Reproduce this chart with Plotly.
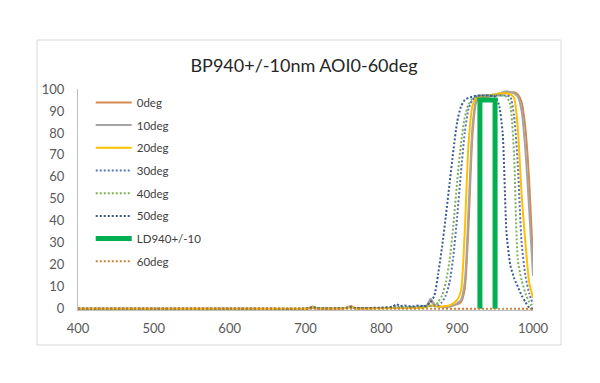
import plotly.graph_objects as go

wl = [400, 500, 600, 700, 705, 710, 715, 750, 755, 760, 765, 800, 815, 820, 825, 830, 840, 850, 855,
      860, 865, 870, 875, 880, 885, 890, 895, 900, 905, 910, 915, 920, 925, 930, 940, 950, 955, 960,
      965, 970, 975, 980, 985, 990, 995, 1000]

deg0 = [0, 0, 0, 0, 0.3, 1.0, 0.2, 0.2, 0.5, 1.2, 0.3, 0.3, 0.3, 0.4, 0.3, 0.3, 0.4, 0.5, 0.8,
        1.2, 3.5, 1.5, 1.0, 0.8, 0.8, 1.0, 1.5, 2, 3, 9, 38, 78, 94, 96, 96.5, 97, 97.5, 98,
        98.5, 98.5, 98.5, 97.5, 94, 82, 58, 22]
deg10 = [0, 0, 0, 0, 0.2, 0.8, 0.2, 0.2, 0.4, 1.0, 0.3, 0.3, 0.3, 0.4, 0.3, 0.3, 0.4, 0.5, 0.8,
         1.5, 4.5, 2.0, 1.2, 0.8, 0.8, 1.0, 1.5, 2.5, 4, 12, 45, 82, 95, 96.5, 97, 97.5, 98, 98.5,
         99, 98.5, 98, 96.5, 90, 72, 45, 15]
deg20 = [0, 0, 0, 0, 0.2, 0.6, 0.2, 0.2, 0.4, 0.8, 0.2, 0.2, 0.3, 0.3, 0.3, 0.3, 0.3, 0.4, 0.6,
         0.8, 1.5, 1.2, 1.0, 1.0, 1.2, 1.5, 2.5, 4, 8, 35, 75, 92, 96, 96.5, 97, 97.5, 98, 98,
         98, 97.5, 96, 82, 52, 30, 12, 5]
deg30 = [0, 0, 0, 0, 0.2, 0.5, 0.2, 0.2, 0.3, 0.6, 0.2, 0.3, 0.5, 0.8, 0.5, 0.6, 0.8, 1.0, 1.2,
         1.0, 1.2, 1.5, 1.5, 3, 6, 12, 24, 42, 62, 80, 91, 95, 96.5, 97, 97, 97, 97, 97,
         97, 96.5, 88, 65, 30, 15, 7, 2]
deg40 = [0, 0, 0, 0, 0.2, 0.5, 0.2, 0.2, 0.3, 0.5, 0.2, 0.3, 0.4, 0.6, 0.5, 0.5, 0.6, 0.8, 1.0,
         1.0, 1.2, 1.0, 3, 6, 12, 22, 38, 58, 75, 87, 93, 95.5, 96.5, 97, 97, 97, 97, 97,
         96.5, 93, 70, 22, 13, 7, 3, 0.5]
deg50 = [0, 0, 0, 0, 0.3, 0.6, 0.2, 0.2, 0.4, 0.6, 0.3, 0.5, 1.0, 2.0, 1.2, 1.5, 1.0, 1.5, 1.0,
         1.5, 3, 6, 16, 28, 42, 57, 72, 85, 92, 95, 96, 96.5, 97, 97, 97, 96.5, 93, 80,
         35, 20, 14, 10, 6, 3, 0.5, 0]
deg60 = [0, 0, 0, 0, 0, 0, 0, 0, 0, 0, 0, 0, 0, 0, 0, 0, 0, 0, 0,
         0, 0, 0, 0, 0, 0, 0, 0, 0, 0, 0, 0, 0, 0, 0, 0, 0, 0, 0,
         0, 0, 0, 0, 0, 0, 0, 0]

ld_x = [930, 930, 950, 950]
ld_y = [0, 95, 95, 0]

x_ticks = [400, 500, 600, 700, 800, 900, 1000]
y_ticks = [0, 10, 20, 30, 40, 50, 60, 70, 80, 90, 100]

DOT = "2px,2px"
series = [
    ("0deg", wl, deg0, "#D4894F", 2, "solid"),
    ("10deg", wl, deg10, "#A5A5A5", 2, "solid"),
    ("20deg", wl, deg20, "#FFC000", 2, "solid"),
    ("30deg", wl, deg30, "#5B74B8", 2, DOT),
    ("40deg", wl, deg40, "#7FB356", 2, DOT),
    ("50deg", wl, deg50, "#3A5A90", 2, DOT),
    ("LD940+/-10", ld_x, ld_y, "#00B050", 5, "solid"),
    ("60deg", wl, deg60, "#C8803A", 2, DOT),
]

fig = go.Figure()
for i, (name, xs, ys, col, w, dash) in enumerate(series):
    if name == "LD940+/-10":
        line = dict(color=col, width=w, dash=dash)
    else:
        line = dict(color=col, width=w, dash=dash, shape="spline", smoothing=0.6)
    fig.add_trace(go.Scatter(x=xs, y=ys, name=name, mode="lines", line=line,
                             legendgroup=f"g{i}"))

# page body has an 8px margin, so the figure is 8px smaller and offsets are reduced by 8
W, H = 592, 375
font = "Lato, 'Open Sans', sans-serif"
fig.update_layout(
    width=W, height=H,
    margin=dict(l=70, r=67, t=81, b=73),
    paper_bgcolor="white", plot_bgcolor="white",
    font=dict(family=font, size=13, color="#595959"),
    title=dict(text="BP940+/-10nm AOI0-60deg", x=0.5, xanchor="center",
               y=1 - 58 / H, yanchor="middle",
               font=dict(family=font, size=18, color="#262626")),
    showlegend=True,
    legend=dict(x=0.028, y=1.005, xanchor="left", yanchor="top", maxheight=320,
                bgcolor="rgba(0,0,0,0)", font=dict(size=11.5, color="#404040"),
                traceorder="grouped", tracegroupgap=3.7, itemwidth=36),
    xaxis=dict(range=[400, 1000], tickvals=x_ticks, showgrid=False, zeroline=False,
               showline=True, linecolor="#BFBFBF", linewidth=1, ticks="",
               ticklabelstandoff=6),
    yaxis=dict(range=[-0.6, 100], tickvals=y_ticks, showgrid=False, zeroline=False,
               showline=True, linecolor="#BFBFBF", linewidth=1, ticks="",
               ticklabelstandoff=10),
    shapes=[dict(type="rect", xref="paper", yref="paper",
                 x0=(37 - 78) / 455, x1=(561 - 78) / 455,
                 y0=(310 - 345) / 221, y1=(310 - 40) / 221,
                 line=dict(color="#D9D9D9", width=1), fillcolor="rgba(0,0,0,0)", layer="below")],
)

fig.write_html("out.html")
